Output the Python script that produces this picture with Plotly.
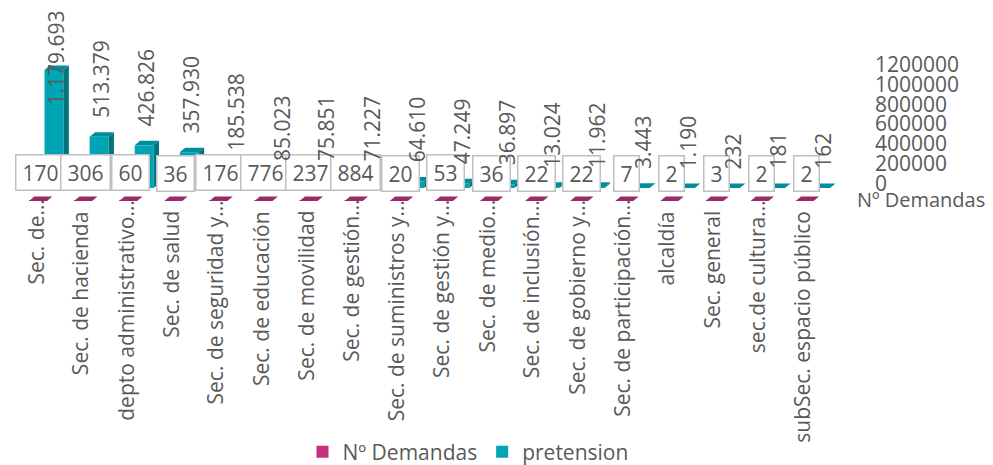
import plotly.graph_objects as go

# ---------------- data ----------------
categories = ["Sec. de…", "Sec. de hacienda", "depto administrativo…", "Sec. de salud",
              "Sec. de seguridad y…", "Sec. de educación", "Sec. de movilidad",
              "Sec. de gestión…", "Sec. de suministros y…", "Sec. de gestión y…",
              "Sec. de medio…", "Sec. de inclusión…", "Sec. de gobierno y…",
              "Sec. de participación…", "alcaldía", "Sec. general", "sec.de cultura…",
              "subSec. espacio público"]
demandas = [170, 306, 60, 36, 176, 776, 237, 884, 20, 53, 36, 22, 22, 7, 2, 3, 2, 2]
pretension = [1179693, 513379, 426826, 357930, 185538, 85023, 75851, 71227, 64610,
              47249, 36897, 13024, 11962, 3443, 1190, 232, 181, 162]
axis_ticks = [0, 200000, 400000, 600000, 800000, 1000000, 1200000]
series_names = ["Nº Demandas", "pretension"]

# ---------------- styles / layout (window pixel geometry) ----------------
WIN_W, WIN_H = 993, 465
BODY = 8                                  # default page body margin
W, H = WIN_W - BODY, WIN_H - BODY
FONT = "Open Sans"
TXT = "#595959"
MAG = "#C3337F"
MAG_TOP = "#9C2A6B"
TEAL = "#00A5B5"
TEAL_TOP = "#008E9C"
TEAL_SIDE = "#007580"
FS = 21

PLOT_TOP = BODY               # window px
PLOT_BOTTOM = 208             # window px
PX_PER_CAT = 45.1
FIRST_CAT_PX = 40
UNITS_PER_PX = 10000
TEAL_BASE_PX = 188
AXIS0_PX = 183.5
AXIS_UNITS_PER_PX = 200000 / 19.83
MAG_BASE = -130000
DX = 0.12
DY = 45000

def cat_at(px):
    return (px - FIRST_CAT_PX) / PX_PER_CAT

def val_at(py, base_px=TEAL_BASE_PX, upp=UNITS_PER_PX):
    return (base_px - py) * upp

xr = [cat_at(BODY), cat_at(WIN_W)]
yr = [val_at(PLOT_BOTTOM), val_at(PLOT_TOP)]
yr2 = [val_at(PLOT_BOTTOM, AXIS0_PX, AXIS_UNITS_PER_PX),
       val_at(PLOT_TOP, AXIS0_PX, AXIS_UNITS_PER_PX)]
plot_h = PLOT_BOTTOM - PLOT_TOP

n = len(categories)
idx = list(range(n))
teal_off, teal_w = 0.31, 0.42
mag_off, mag_w = -0.045, 0.40

fig = go.Figure()
fig.add_trace(go.Bar(x=[i + mag_off for i in idx], y=demandas, base=[MAG_BASE] * n,
                     width=mag_w, marker=dict(color=MAG, line=dict(width=0)),
                     name=series_names[0], hoverinfo="skip"))
fig.add_trace(go.Bar(x=[i + teal_off for i in idx], y=pretension, base=[0] * n,
                     width=teal_w, marker=dict(color=TEAL, line=dict(width=0)),
                     name=series_names[1], hoverinfo="skip"))
fig.add_trace(go.Scatter(x=[None], y=[None], yaxis="y2", showlegend=False,
                         hoverinfo="skip"))

shapes = []
def faces(xc, w, base, val, top_col, side_col):
    x0, x1 = xc - w / 2, xc + w / 2
    top = base + val
    out = [dict(type="path", xref="x", yref="y", layer="above", line=dict(width=0),
                fillcolor=top_col,
                path=f"M {x0},{top} L {x1},{top} L {x1+DX},{top+DY} L {x0+DX},{top+DY} Z")]
    if side_col and val > 0:
        out.append(dict(type="path", xref="x", yref="y", layer="above", line=dict(width=0),
                        fillcolor=side_col,
                        path=f"M {x1},{base} L {x1},{top} L {x1+DX},{top+DY} L {x1+DX},{base+DY} Z"))
    return out

for i in idx:
    shapes += faces(i + mag_off, mag_w, MAG_BASE, demandas[i], MAG_TOP, None)
    shapes += faces(i + teal_off, teal_w, 0, pretension[i], TEAL_TOP, TEAL_SIDE)

annotations = []
# boxed Nº Demandas labels
for i in idx:
    t = str(demandas[i])
    annotations.append(dict(x=i, y=MAG_BASE + demandas[i], xref="x", yref="y",
                            text=t, showarrow=False, yanchor="middle", xanchor="center",
                            yshift=28, font=dict(family=FONT, size=FS, color=TXT),
                            bgcolor="white", bordercolor="#BFBFBF", borderwidth=1.5,
                            borderpad=3, width=len(t) * 0.572 * FS + 6))
# rotated pretension labels
for i in idx:
    t = f"{pretension[i]:,}".replace(",", ".")
    est_len = FS * (0.572 * sum(c.isdigit() for c in t) + 0.266 * t.count("."))
    top_px = TEAL_BASE_PX - pretension[i] / UNITS_PER_PX - 17 - est_len
    if top_px < 8:
        annotations.append(dict(x=i + teal_off, y=yr[1], xref="x", yref="y", text=t,
                                showarrow=False, textangle=-90, yanchor="top",
                                xanchor="center", xshift=2, yshift=0,
                                font=dict(family=FONT, size=FS, color=TXT)))
    else:
        annotations.append(dict(x=i + teal_off, y=pretension[i], xref="x", yref="y",
                                text=t, showarrow=False, textangle=-90, yanchor="bottom",
                                xanchor="center", xshift=2, yshift=17,
                                font=dict(family=FONT, size=FS, color=TXT)))
# category labels
for i in idx:
    trunc = categories[i].endswith("…")
    annotations.append(dict(x=i - 0.11, y=0, xref="x", yref="paper", text=categories[i],
                            showarrow=False, textangle=-90, yanchor="top",
                            xanchor="center", yshift=(10 if trunc else -1),
                            font=dict(family=FONT, size=FS, color=TXT)))
# depth axis label
annotations.append(dict(x=cat_at(855), y=MAG_BASE, xref="x", yref="y",
                        text=series_names[0], showarrow=False, xanchor="left",
                        yanchor="middle", yshift=2,
                        font=dict(family=FONT, size=20, color=TXT)))

fig.update_layout(
    width=W, height=H,
    margin=dict(l=0, r=0, t=0, b=H - plot_h, pad=0, autoexpand=False),
    paper_bgcolor="white", plot_bgcolor="white",
    font=dict(family=FONT, size=FS, color=TXT),
    barmode="overlay", showlegend=True,
    xaxis=dict(range=xr, visible=False, fixedrange=True),
    yaxis=dict(range=yr, visible=False, fixedrange=True),
    yaxis2=dict(range=yr2, overlaying="y", side="right", anchor="free",
                position=(874 - BODY) / W, tickvals=axis_ticks, tickformat="d",
                showgrid=False, zeroline=False, showline=False, ticks="",
                tickfont=dict(family=FONT, size=FS, color=TXT), fixedrange=True),
    legend=dict(orientation="h", x=(468 - BODY) / W, xanchor="center",
                y=(PLOT_BOTTOM - 452) / plot_h, yanchor="middle",
                font=dict(family=FONT, size=FS, color=TXT), bgcolor="rgba(0,0,0,0)",
                borderwidth=0, tracegroupgap=0),
    shapes=shapes, annotations=annotations,
)

fig.write_html("out.html")
